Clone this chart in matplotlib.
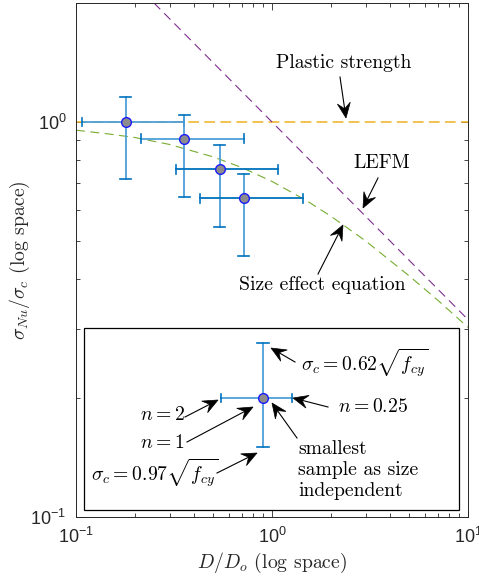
import matplotlib
matplotlib.use("Agg")
import matplotlib.pyplot as plt
from matplotlib.patches import Rectangle, Polygon
from matplotlib.lines import Line2D
from matplotlib.ticker import FuncFormatter, LogLocator, NullFormatter
import numpy as np

plt.rcParams['mathtext.fontset'] = 'custom'
plt.rcParams['mathtext.rm'] = 'Liberation Sans'
plt.rcParams['mathtext.it'] = 'Liberation Sans:italic'
plt.rcParams['mathtext.bf'] = 'Liberation Sans:bold'
plt.rcParams['axes.unicode_minus'] = False

# ---- data ----
x_pts = [0.179, 0.357, 0.541, 0.717]
y_pts = [1.0, 0.906, 0.759, 0.641]
x_lo = [0.107, 0.215, 0.323, 0.431]   # n = 2
x_hi = [0.357, 0.717, 1.077, 1.439]   # n = 0.25
y_hi = [1.159, 1.043, 0.873, 0.737]   # sigma_c = 0.62 sqrt(fcy)
y_lo = [0.717, 0.646, 0.541, 0.457]   # sigma_c = 0.97 sqrt(fcy)

plastic_x = [0.1, 10]
plastic_y = [1.0, 1.0]
lefm_x = [0.25, 10]
lefm_y = [2.0, 0.316]
size_x = [0.1, 0.15, 0.2, 0.3, 0.5, 0.7, 1.0, 1.5, 2.0, 3.0, 5.0, 7.0, 10.0]
size_y = [0.953, 0.931, 0.913, 0.877, 0.816, 0.767, 0.707, 0.632, 0.577, 0.500, 0.408, 0.354, 0.302]

leg_x, leg_y = [0.9], [0.2]
leg_x_lo, leg_x_hi = [0.55], [1.26]
leg_y_lo, leg_y_hi = [0.150], [0.276]

DARK = '#0072BD'
LIGHT = '#4D9FD9'
TXT = '#262626'

fig = plt.figure(figsize=(4.79, 5.80), dpi=100)
ax = fig.add_axes([76/479, 63/580, 392/479, 514/580])
ax.set_xscale('log')
ax.set_yscale('log')
ax.set_xlim(0.1, 10)
ax.set_ylim(0.1, 2)

ax.plot(plastic_x, plastic_y, color='#EDB120', lw=1.1, dashes=(7, 3.5), zorder=2)
ax.plot(lefm_x, lefm_y, color='#7E2F8E', lw=0.8, dashes=(8, 5), zorder=2)
ax.plot(size_x, size_y, color='#77AC30', lw=0.8, dashes=(8, 5), zorder=2)

def draw_err(a, xs, ys, xl, xh, yl, yh, hcolors):
    for i in range(len(xs)):
        x, y = xs[i], ys[i]
        a.plot([xl[i], xh[i]], [y, y], color=hcolors[i], lw=1.3, zorder=3)
        a.plot([x, x], [yl[i], yh[i]], color=LIGHT, lw=1.3, zorder=3)
        cf = 1.026
        a.plot([xl[i], xl[i]], [y / cf, y * cf], color=DARK, lw=1.2, zorder=3)
        a.plot([xh[i], xh[i]], [y / cf, y * cf], color=DARK, lw=1.2, zorder=3)
        cx = 1.07
        a.plot([x / cx, x * cx], [yl[i], yl[i]], color=DARK, lw=1.2, zorder=3)
        a.plot([x / cx, x * cx], [yh[i], yh[i]], color=DARK, lw=1.2, zorder=3)
        a.plot([x], [y], 'o', ms=7, mfc='#8c8c8c', mec='#1a1aff', mew=1.0, zorder=4)

draw_err(ax, x_pts, y_pts, x_lo, x_hi, y_lo, y_hi, [LIGHT, LIGHT, DARK, DARK])

def fmt(v, pos):
    e = int(round(np.log10(v)))
    return r'$\mathdefault{10^{%d}}$' % e
ax.xaxis.set_major_locator(LogLocator(base=10, numticks=10))
ax.yaxis.set_major_locator(LogLocator(base=10, numticks=10))
ax.xaxis.set_major_formatter(FuncFormatter(fmt))
ax.yaxis.set_major_formatter(FuncFormatter(fmt))
ax.xaxis.set_minor_formatter(NullFormatter())
ax.yaxis.set_minor_formatter(NullFormatter())
ax.tick_params(which='both', direction='in', top=True, right=True, colors=TXT,
               labelcolor=TXT, width=0.6)
ax.tick_params(which='major', length=5, labelsize=13, pad=7)
ax.tick_params(which='minor', length=3)
for lab in ax.get_xticklabels() + ax.get_yticklabels():
    lab.set_fontfamily('Liberation Sans')
for sp in ax.spines.values():
    sp.set_color('#262626')
    sp.set_linewidth(0.7)

FS = 14.2
ax.set_xlabel(r'$D/D_o$ (log space)', fontfamily='cmr10', math_fontfamily='cm',
              fontsize=FS, color=TXT, labelpad=3)
ax.set_ylabel(r'$\sigma_{Nu}/\sigma_c$ (log space)', fontfamily='cmr10', math_fontfamily='cm',
              fontsize=FS, color=TXT)
ax.yaxis.set_label_coords(-0.112, 0.5)

def px(x, y):
    return (x / 479, 1 - y / 580)

def arrow(x0, y0, x1, y1, L=15.0, W=6.5, notch=0.62):
    # arrow with a notched (chevron-like) head, coordinates in figure pixels
    d = np.array([x1 - x0, y1 - y0], float)
    n = np.hypot(*d)
    u = d / n
    p = np.array([-u[1], u[0]])
    tip = np.array([x1, y1], float)
    back = tip - u * L
    nb = tip - u * L * notch
    c1 = back + p * W
    c2 = back - p * W
    fig.lines.append(Line2D([px(x0, y0)[0], px(*nb)[0]], [px(x0, y0)[1], px(*nb)[1]],
                            transform=fig.transFigure, color='black', lw=0.8, zorder=10))
    pts = [px(*tip), px(*c1), px(*nb), px(*c2)]
    fig.patches.append(Polygon(pts, closed=True, transform=fig.transFigure,
                               facecolor='black', edgecolor='black', lw=0.5, zorder=10))

TF = dict(fontfamily='cmr10', fontsize=FS, color='black', zorder=10)
MF = dict(fontsize=FS, color='black', math_fontfamily='cm', zorder=10)

fig.text(*px(344, 63), 'Plastic strength', ha='center', va='center', **TF)
arrow(340, 77, 346, 118)
fig.text(*px(382, 163), 'LEFM', ha='center', va='center', **TF)
arrow(378, 178, 363, 208)
fig.text(*px(322, 285), 'Size effect equation', ha='center', va='center', **TF)
arrow(318, 274, 343, 225)

box = Rectangle(px(84, 510), (459 - 84) / 479, (510 - 328) / 580, transform=fig.transFigure,
                facecolor='white', edgecolor='black', lw=0.9, zorder=5)
fig.patches.append(box)

ax2 = fig.add_axes(ax.get_position(), sharex=ax, sharey=ax, zorder=6)
ax2.set_axis_off()
ax2.patch.set_alpha(0)
draw_err(ax2, leg_x, leg_y, leg_x_lo, leg_x_hi, leg_y_lo, leg_y_hi, [LIGHT])

fig.text(*px(365, 363), r'$\sigma_c = 0.62\sqrt{f_{cy}}$', ha='center', va='center', **MF)
arrow(295, 362, 271, 348)
fig.text(*px(373, 407), r'$n = 0.25$', ha='center', va='center', **MF)
arrow(328, 407, 293, 398)
fig.text(*px(162, 415), r'$n = 2$', ha='center', va='center', **MF)
arrow(185, 417, 218, 400)
fig.text(*px(162, 442), r'$n = 1$', ha='center', va='center', **MF)
arrow(187, 442, 253, 407)
fig.text(*px(155, 473), r'$\sigma_c = 0.97\sqrt{f_{cy}}$', ha='center', va='center', **MF)
arrow(217, 473, 257, 453)
fig.text(*px(298, 470), 'smallest\nsample as size\nindependent', ha='left', va='center',
         linespacing=1.2, **TF)
arrow(297, 438, 272, 403)

fig.savefig('out.png', dpi=100)
